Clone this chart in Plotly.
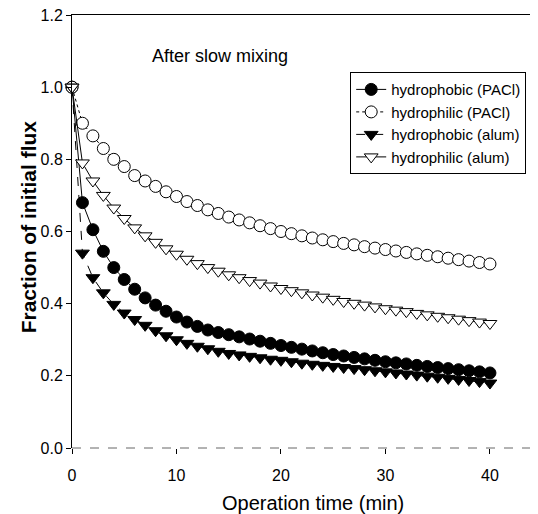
import plotly.graph_objects as go

time_min = list(range(0, 41))

hydrophobic_pacl = [1.0, 0.68, 0.605, 0.545, 0.50, 0.467, 0.44, 0.416, 0.396, 0.379,
                    0.363, 0.349, 0.337, 0.327, 0.32, 0.314, 0.308, 0.302, 0.296, 0.29,
                    0.284, 0.279, 0.274, 0.269, 0.264, 0.259, 0.255, 0.251, 0.247, 0.243,
                    0.239, 0.236, 0.233, 0.229, 0.226, 0.223, 0.22, 0.217, 0.214, 0.211, 0.208]

hydrophilic_pacl = [1.0, 0.90, 0.865, 0.83, 0.80, 0.78, 0.755, 0.74, 0.725, 0.71,
                    0.697, 0.683, 0.672, 0.66, 0.65, 0.64, 0.632, 0.624, 0.616, 0.608,
                    0.60, 0.594, 0.588, 0.582, 0.577, 0.572, 0.567, 0.563, 0.558, 0.554,
                    0.55, 0.546, 0.542, 0.538, 0.534, 0.53, 0.526, 0.522, 0.518, 0.514, 0.51]

hydrophobic_alum = [1.0, 0.54, 0.472, 0.43, 0.398, 0.374, 0.356, 0.34, 0.325, 0.311,
                    0.30, 0.29, 0.282, 0.275, 0.268, 0.262, 0.258, 0.254, 0.25, 0.246,
                    0.243, 0.239, 0.235, 0.232, 0.229, 0.226, 0.223, 0.22, 0.217, 0.214,
                    0.211, 0.208, 0.205, 0.202, 0.199, 0.196, 0.193, 0.19, 0.187, 0.184, 0.18]

hydrophilic_alum = [1.0, 0.79, 0.74, 0.70, 0.665, 0.636, 0.61, 0.588, 0.57, 0.552,
                    0.537, 0.523, 0.511, 0.50, 0.49, 0.48, 0.472, 0.464, 0.457, 0.449,
                    0.442, 0.436, 0.43, 0.424, 0.418, 0.412, 0.406, 0.401, 0.396, 0.391,
                    0.386, 0.382, 0.378, 0.373, 0.369, 0.365, 0.361, 0.357, 0.353, 0.349, 0.345]

x_ticks = [0, 10, 20, 30, 40]
y_ticks = [0.0, 0.2, 0.4, 0.6, 0.8, 1.0, 1.2]

FONT = "Liberation Sans, Arial, sans-serif"

fig = go.Figure()

series = [
    ("hydrophobic (PACl)", hydrophobic_pacl, "circle", "black", "solid"),
    ("hydrophilic (PACl)", hydrophilic_pacl, "circle", "white", "dot"),
    ("hydrophobic (alum)", hydrophobic_alum, "triangle-down", "black", "dash"),
    ("hydrophilic (alum)", hydrophilic_alum, "triangle-down", "white", "solid"),
]

for name, vals, sym, fill, dash in series:
    fig.add_trace(go.Scatter(
        x=time_min, y=vals, name=name, mode="lines+markers",
        line=dict(color="black", width=1, dash=dash),
        marker=dict(symbol=sym, size=12, color=fill, line=dict(color="black", width=1)),
        cliponaxis=False,
    ))

# empty helper trace so that the top frame axis gets drawn
fig.add_trace(go.Scatter(x=[], y=[], xaxis="x2", showlegend=False, hoverinfo="skip"))

fig.update_layout(
    width=530, height=506,
    margin=dict(l=64, r=0, t=7, b=66),
    paper_bgcolor="white", plot_bgcolor="white",
    font=dict(family=FONT, size=15, color="black"),
    showlegend=True,
    legend=dict(x=0.597, y=0.868, xanchor="left", yanchor="top",
                bgcolor="white", bordercolor="black", borderwidth=1,
                font=dict(family=FONT, size=15), tracegroupgap=0),
    xaxis=dict(range=[0, 44.6], tickvals=x_ticks, ticks="outside", ticklen=5,
               tickcolor="black", showgrid=False, zeroline=False, showline=False,
               ticklabelstandoff=8, tickfont=dict(family=FONT, size=16),
               ticklabeloverflow="allow"),
    xaxis2=dict(range=[0, 44.6], overlaying="x", side="top", showline=True,
                linecolor="black", linewidth=1, showticklabels=False, ticks="",
                showgrid=False, zeroline=False),
    yaxis=dict(range=[0, 1.2], tickvals=y_ticks, tickformat=".1f", ticks="outside",
               ticklen=5, tickcolor="black", showgrid=False, zeroline=False,
               showline=True, linecolor="black", linewidth=1,
               tickfont=dict(family=FONT, size=16), ticklabeloverflow="allow"),
    shapes=[
        dict(type="line", xref="paper", yref="paper", x0=0, x1=1, y0=0, y1=0,
             line=dict(color="#666666", width=1, dash="dash")),
    ],
    annotations=[
        dict(text="After slow mixing", x=7.5, y=1.086, xref="x", yref="y",
             xanchor="left", yanchor="middle", showarrow=False,
             font=dict(family=FONT, size=18)),
        dict(text="Operation time (min)", x=0.517, y=-0.126, xref="paper", yref="paper",
             xanchor="center", yanchor="middle", showarrow=False,
             font=dict(family=FONT, size=20)),
        dict(text="<b>Fraction of initial flux</b>", x=-0.094, y=0.51, xref="paper",
             yref="paper", xanchor="center", yanchor="middle", textangle=-90,
             showarrow=False, font=dict(family=FONT, size=21)),
    ],
)

fig.write_html("out.html")
